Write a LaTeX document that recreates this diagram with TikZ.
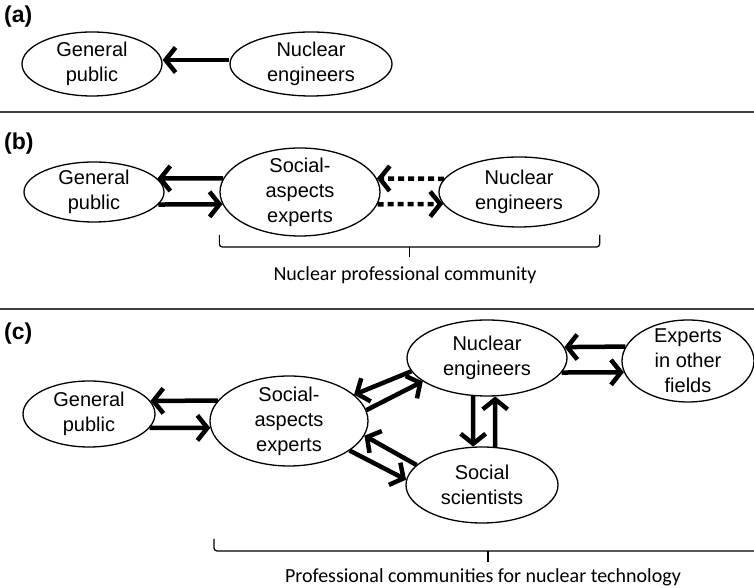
\documentclass[tikz,border=0pt]{standalone}
\usepackage{fontspec}
\setmainfont{Liberation Sans}
\newfontfamily\capfont{Carlito}
\usetikzlibrary{shapes.geometric,arrows.meta}

\begin{document}
\begin{tikzpicture}[x=1pt,y=1pt,
        bub/.style 2 args={draw, ellipse, line width=1.3pt, inner xsep=0pt, inner ysep=-8pt,
            minimum width=#1, minimum height=#2, align=center,
            font=\fontsize{20}{25}\selectfont},
        flow/.style={line width=4.5pt, -{Straight Barb[length=10pt,width=25pt]}},
        dots/.style={flow, dash pattern=on 6pt off 4pt},
        tag/.style={font=\fontsize{23}{26}\selectfont\bfseries, anchor=west, inner sep=0pt},
        captext/.style={font=\capfont\fontsize{20}{24}\selectfont, inner sep=0pt},
        sep/.style={line width=1.2pt, black!75},
        brk/.style={line width=1.2pt, rounded corners=3pt}]
    \useasboundingbox (0,0) rectangle (754,588);

    % (a)
    \node[tag] (taga) at (4,571) {(a)};
    \node[bub={140}{64}] (gpa) at (92,524) {General\\public};
    \node[bub={162}{64}] (nea) at (311,524) {Nuclear\\engineers};
    \draw[flow] ([yshift=4pt]nea.west) -- ([yshift=4pt]gpa.east);

    \coordinate (sepa) at (0,476);
    \draw[sep] (sepa) -- ++(754,0);

    % (b)
    \node[tag] (tagb) at (4,444) {(b)};
    \node[bub={140}{60}] (gpb) at (94,396) {General\\public};
    \node[bub={160}{88}] (saeb) at (300,396) {Social-\\aspects\\experts};
    \node[bub={160}{70}] (neb) at (519,396) {Nuclear\\engineers};
    \draw[flow] (saeb.170) -- (gpb.12);
    \draw[flow] (gpb.-11) -- (saeb.189);
    \draw[dots] (neb.170) -- (saeb.10);
    \draw[dots] (saeb.-9) -- (neb.189);

    \draw[brk] (saeb.west |- 0,353) |- (neb.east |- 0,341) -- ++(0,12);
    \coordinate (brb) at (409.5,341);
    \draw[brk] (brb) -- ++(0,-10);
    \node[captext] (capb) at (405,313) {Nuclear professional community};

    \coordinate (sepb) at (0,279);
    \draw[sep] (sepb) -- ++(754,0);

    % (c)
    \node[tag] (tagc) at (4,254) {(c)};
    \node[bub={132}{66}] (gpc) at (89,174) {General\\public};
    \node[bub={158}{90}] (saec) at (289,167) {Social-\\aspects\\experts};
    \node[bub={160}{76}] (nec) at (487,230) {Nuclear\\engineers};
    \node[bub={132}{82}] (expc) at (688,227) {Experts\\in other\\fields};
    \node[bub={152}{76}] (ssc) at (482,103) {Social\\scientists};
    \draw[flow] (saec.164) -- (gpc.12);
    \draw[flow] (gpc.-13) -- (saec.185);
    \draw[flow] (nec.190) -- (saec.22);
    \draw[flow] (saec.8) -- (nec.200);
    \draw[flow] (ssc.163) -- (saec.-11);
    \draw[flow] (saec.-26) -- (ssc.176);
    \draw[flow] (nec.250) -- (ssc.103);
    \draw[flow] (ssc.71) -- (nec.-78);
    \draw[flow] (expc.167) -- (nec.8);
    \draw[flow] (nec.-11) -- (expc.190);

    \draw[brk] (214,49) |- (762,37) -- ++(0,12);
    \coordinate (brc) at (488,37);
    \draw[brk] (brc) -- ++(0,-11);
    \node[captext] (capc) at (483,11) {Professional communities for nuclear technology};
\end{tikzpicture}
\end{document}
